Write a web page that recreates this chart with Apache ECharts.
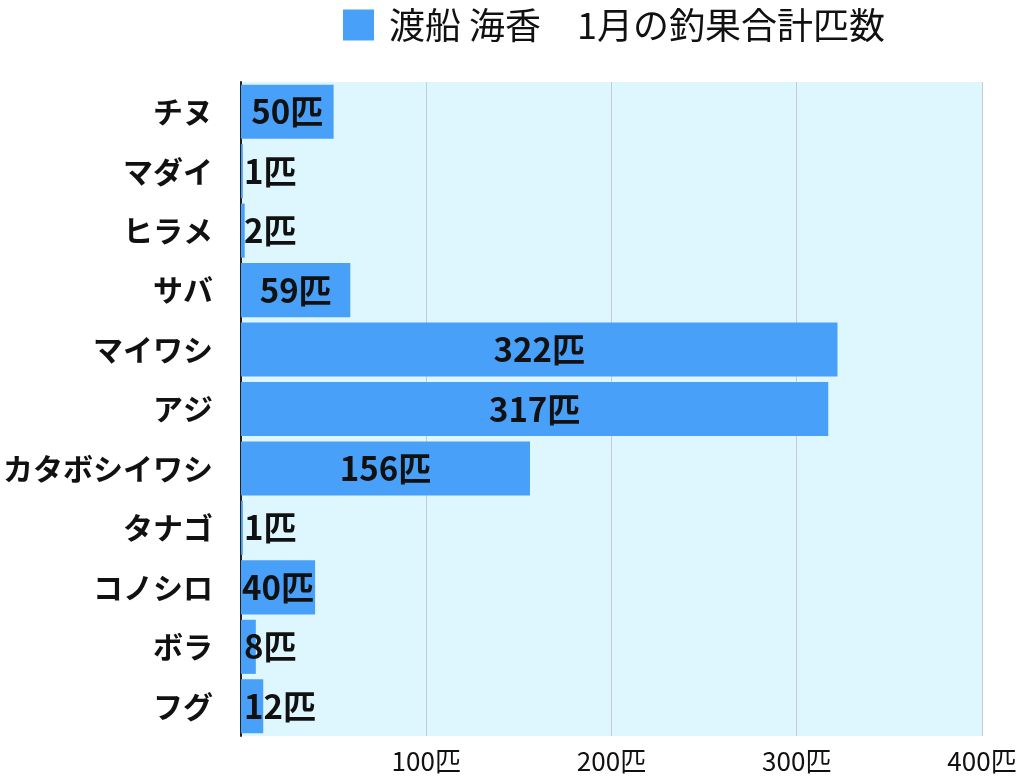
<!DOCTYPE html>
<html><head><meta charset="utf-8">
<script src="https://cdn.jsdelivr.net/npm/echarts@6/dist/echarts.min.js"></script>
<style>html,body{margin:0;padding:0;background:#fff}#c{width:1024px;height:776px}</style>
</head><body><div id="c"></div>
<script>
const seriesName = '渡船 海香　1月の釣果合計匹数';
const categories = ['チヌ','マダイ','ヒラメ','サバ','マイワシ','アジ','カタボシイワシ','タナゴ','コノシロ','ボラ','フグ'];
const values = [50,1,2,59,322,317,156,1,40,8,12];
const unit = '匹';

const FONT = '"Noto Sans CJK JP", "Noto Sans", sans-serif';
const chart = echarts.init(document.getElementById('c'));
chart.setOption({
  animation: false,
  legend: {
    top: 2, left: 338,
    itemWidth: 31, itemHeight: 31, itemGap: 20,
    textStyle: { fontSize: 36, color: '#111', fontFamily: FONT, padding: [0,0,0,10] },
    icon: 'rect'
  },
  grid: { left: 240, right: 42, top: 82, bottom: 40, containLabel: false },
  xAxis: {
    type: 'value', min: 0, max: 400, interval: 100,
    axisLine: { show: false }, axisTick: { show: false },
    splitLine: { show: true, lineStyle: { color: '#c4cdd2', width: 1 } },
    splitArea: { show: false },
    axisLabel: {
      fontSize: 26, color: '#111', fontFamily: FONT, margin: 12,
      formatter: v => v === 0 ? '' : v + unit
    }
  },
  yAxis: {
    type: 'category', data: categories, inverse: true,
    axisLine: { show: true, lineStyle: { color: '#222', width: 2 } },
    axisTick: { show: false },
    axisLabel: { fontSize: 30, fontWeight: 'bold', color: '#111', fontFamily: FONT, margin: 28 }
  },
  series: [{
    name: seriesName, type: 'bar', barCategoryGap: '9%',
    itemStyle: { color: '#48a0f8' },
    data: values.map(v => ({ value: v, label: { position: v < 30 ? 'insideLeft' : 'inside' } })),
    label: {
      show: true, fontSize: 33, fontWeight: 'bold', color: '#111', fontFamily: FONT, distance: 3,
      formatter: p => p.value + unit
    }
  }],
  graphic: []
});
const gr = chart.getModel().getComponent('grid').coordinateSystem.getRect();
chart.setOption({ graphic: [{ type: 'rect', z: -10, silent: true,
  shape: { x: gr.x, y: gr.y, width: gr.width, height: gr.height },
  style: { fill: '#def6fd' } }] });
</script></body></html>
